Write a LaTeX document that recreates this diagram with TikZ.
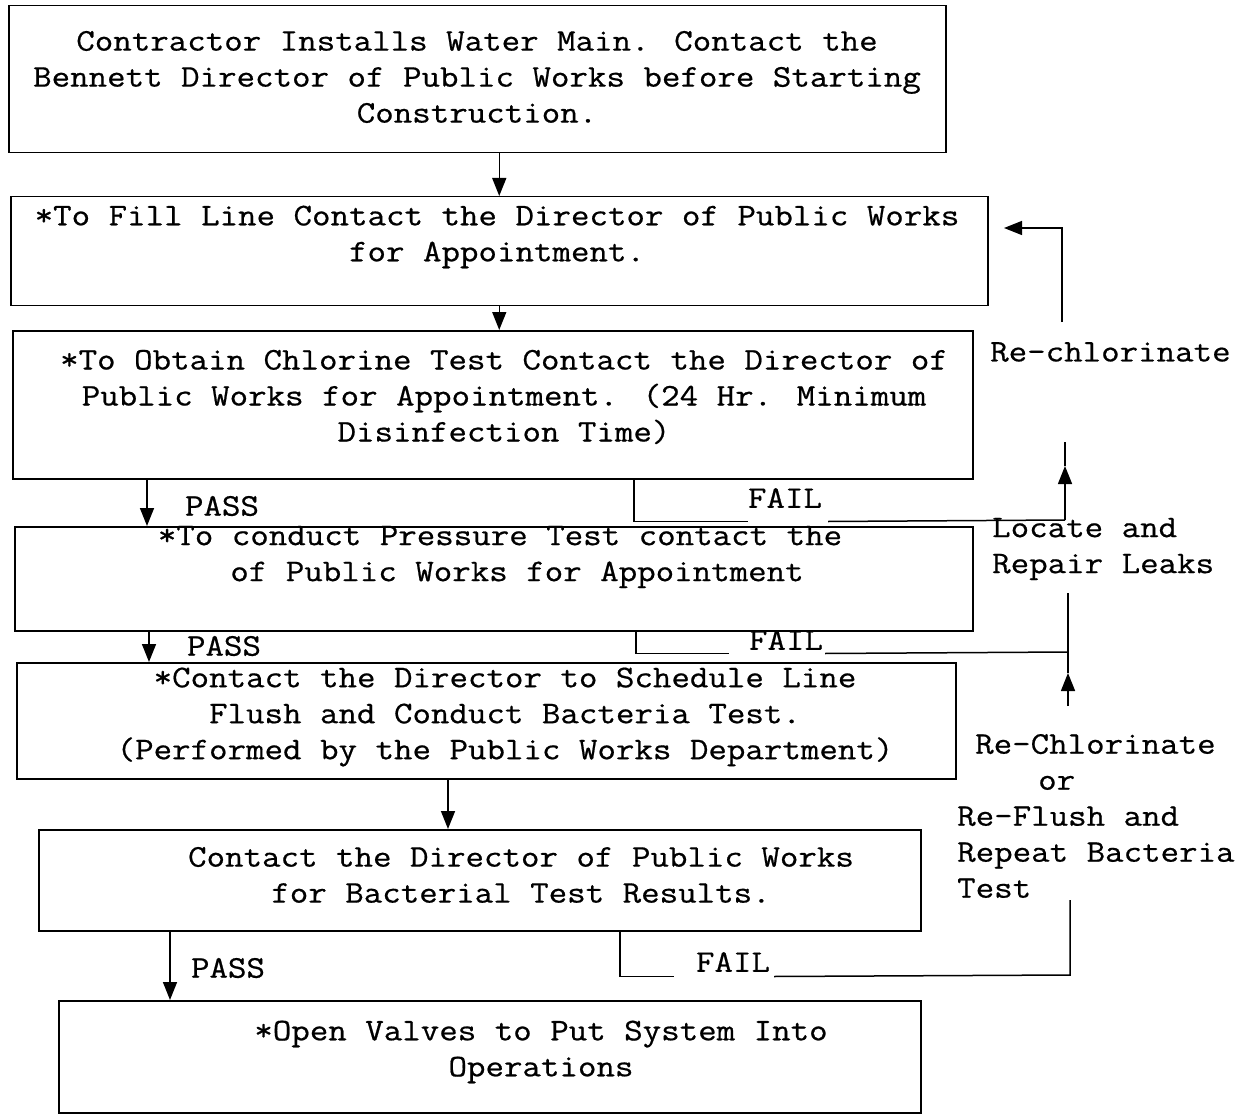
\documentclass[tikz,border=0pt]{standalone}
\usepackage{fontspec}
\setmainfont{Latin Modern Mono}[FakeStretch=1.14,FakeBold=0.6]
\usetikzlibrary{arrows.meta,calc}
\begin{document}
\begin{tikzpicture}[x=1pt,y=-1pt,
  box/.style={draw,line width=1.5pt,rectangle,inner sep=0pt,anchor=north west},
  txt/.style={font=\fontsize{31.5}{36}\selectfont,align=center,inner sep=0pt},
  lbl/.style={font=\fontsize{31.5}{36}\selectfont,inner sep=0pt,align=left},
  conn/.style={line width=1.5pt},
  arr/.style={conn,-{Triangle[length=18pt,width=14pt]}}]
\useasboundingbox[fill=white] (0,0) rectangle (1243,1118);
% boxes
\node[box,minimum width=937pt,minimum height=147pt] (b1) at (8,5) {};
\node[box,minimum width=977pt,minimum height=109pt] (b2) at (10,196) {};
\node[box,minimum width=960pt,minimum height=148pt] (b3) at (12,330) {};
\node[box,minimum width=958pt,minimum height=104pt] (b4) at (14,526) {};
\node[box,minimum width=939pt,minimum height=116pt] (b5) at (16,662) {};
\node[box,minimum width=882pt,minimum height=101pt] (b6) at (38,829) {};
\node[box,minimum width=862pt,minimum height=112pt] (b7) at (58,1000) {};
% texts
\node[txt] (t1) at (477,77) {Contractor Installs Water Main. Contact the\\Bennett Director of Public Works before Starting\\Construction.};
\node[txt] (t2) at (497,237) {*To Fill Line Contact the Director of Public Works\\for Appointment.};
\node[txt] (t3) at (504,397) {*To Obtain Chlorine Test Contact the Director of\\Public Works for Appointment. (24 Hr. Minimum\\Disinfection Time)};
\node[txt] (t4) at (500,557) {*To conduct Pressure Test contact the\\\hspace*{34pt}of Public Works for Appointment};
\node[txt] (t5) at (505,717) {*Contact the Director to Schedule Line\\Flush and Conduct Bacteria Test.\\(Performed by the Public Works Department)};
\node[txt] (t6) at (521,875) {Contact the Director of Public Works\\for Bacterial Test Results.};
\node[txt] (t7) at (541,1052) {*Open Valves to Put System Into\\Operations};
% main arrows
\draw[arr] (b1.south -| b2.north) -- (b2.north);
\draw[arr] (b2.south) -- (b2.south |- b3.north);
\draw[arr] ([xshift=135pt]b3.south west) -- ([xshift=135pt]b3.south west |- b4.north);
\draw[arr] ([xshift=135pt]b4.south west) -- ([xshift=135pt]b4.south west |- b5.north);
\draw[arr] ([xshift=432pt]b5.south west) -- ([xshift=432pt]b5.south west |- b6.north);
\draw[arr] ([xshift=132pt]b6.south west) -- ([xshift=132pt]b6.south west |- b7.north);
% PASS / FAIL labels
\node[lbl] (p1) at (222,506) {PASS};
\node[lbl] (p2) at (224,646) {PASS};
\node[lbl] (p3) at (228,968) {PASS};
\node[lbl] (f1) at (785,498) {FAIL};
\node[lbl] (f2) at (786,640) {FAIL};
\node[lbl] (f3) at (733,962) {FAIL};
% right labels
\node[lbl,anchor=west] (rc) at (990,352) {Re-chlorinate};
\node[lbl,anchor=west] (lr) at (992,549) {Locate and\\Repair Leaks};
\node[lbl,anchor=west] (rb) at (957,816) {\hspace*{18pt}Re-Chlorinate\\\hspace*{81pt}or\\Re-Flush and\\Repeat Bacteria\\Test};
% loop coordinates
\coordinate (r1a) at (1065,520);
\coordinate (r1b) at (1065,466);
\coordinate (r1c) at (1065,442);
\coordinate (r1d) at (1062,322);
\coordinate (r1e) at (1062,228);
\coordinate (r1f) at (1004,228);
\coordinate (r2a) at (1068,652);
\coordinate (r2top) at (1068,593);
\coordinate (r2tip) at (1068,673);
\coordinate (r2bot) at (1068,706);
\coordinate (r3a) at (1070,975);
\coordinate (r3b) at (1070,900);
% FAIL 1
\draw[conn] ([xshift=622pt]b3.south west) -- ++(0,42) coordinate (q1) -- (f1.west |- q1);
\draw[conn] ([xshift=6pt]f1.east |- q1) -- (r1a);
\draw[arr] (r1a) -- (r1b);
\draw[conn] (r1b) -- (r1c);
\draw[arr] (r1d) -- (r1e) -- (r1f);
% FAIL 2
\draw[conn] ([xshift=622pt]b4.south west) -- ++(0,22) coordinate (q2) -- ([xshift=-20pt]f2.west |- q2);
\draw[conn] ([xshift=2pt]f2.east |- q2) -- (r2a);
\draw[conn] (r2top) -- (r2tip);
\draw[arr] (r2bot) -- (r2tip);
% FAIL 3
\draw[conn] ([xshift=582pt]b6.south west) -- ++(0,45) coordinate (q3) -- ([xshift=-22pt]f3.west |- q3);
\draw[conn] ([xshift=-6pt]f3.east |- q3) ++(10pt,0) -- (r3a) -- (r3b);
\end{tikzpicture}
\end{document}
